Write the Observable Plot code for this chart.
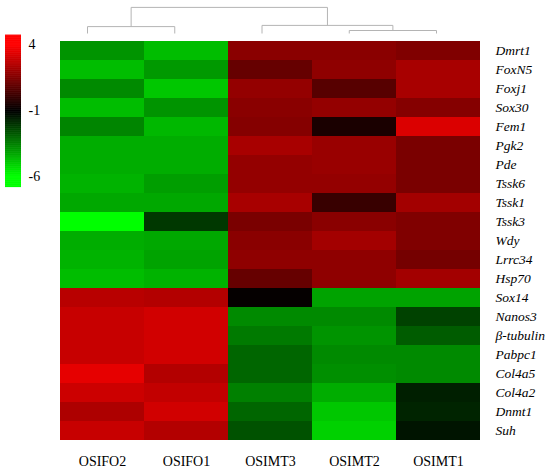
<!DOCTYPE html>
<html>
<head>
<meta charset="utf-8">
<script src="https://cdn.jsdelivr.net/npm/d3@7"></script>
<script src="https://cdn.jsdelivr.net/npm/@observablehq/plot@0.6"></script>
<style>
  body { margin: 0; background: #fff; }
  #chart { position: relative; width: 550px; height: 472px; }
  #chart svg { position: absolute; left: 0; top: 0; font-family: "Liberation Serif", "Times New Roman", serif; }
  #chart svg text { fill: #000; }
</style>
</head>
<body>
<div id="chart"></div>
<script>
const columns = ["OSIFO2", "OSIFO1", "OSIMT3", "OSIMT2", "OSIMT1"];
const genes = ["Dmrt1", "FoxN5", "Foxj1", "Sox30", "Fem1", "Pgk2", "Pde", "Tssk6", "Tssk1", "Tssk3",
  "Wdy", "Lrrc34", "Hsp70", "Sox14", "Nanos3", "β-tubulin", "Pabpc1", "Col4a5", "Col4a2", "Dnmt1", "Suh"];

const OSIFO2 = [-3.9, -4.7, -3.7, -4.7, -3.6, -4.4, -4.4, -4.5, -4.3, -6.0, -4.4, -4.5, -4.7, 2.6, 2.9, 2.9, 2.9, 3.5, 3.0, 2.4, 2.9];
const OSIFO1 = [-4.7, -4.0, -4.9, -3.9, -4.6, -4.4, -4.4, -4.1, -4.3, -2.1, -4.3, -4.2, -4.5, 2.5, 3.1, 3.1, 3.1, 2.5, 2.8, 3.1, 2.5];
const OSIMT3 = [1.7, 1.0, 1.9, 1.7, 1.6, 2.3, 1.9, 1.9, 2.3, 1.4, 1.7, 1.8, 1.0, -0.9, -3.7, -3.4, -3.0, -3.0, -3.5, -3.0, -2.6];
const OSIMT2 = [1.7, 1.8, 0.7, 1.9, -0.5, 2.0, 2.0, 1.9, 0.1, 1.7, 2.2, 1.8, 1.8, -4.2, -3.7, -3.9, -3.7, -3.8, -4.4, -4.9, -5.1];
const OSIMT1 = [1.5, 2.3, 2.3, 1.6, 3.3, 1.4, 1.4, 1.4, 2.2, 1.5, 1.5, 1.3, 2.2, -4.2, -2.3, -2.8, -3.7, -3.7, -1.6, -1.7, -1.4];
const series = [OSIFO2, OSIFO1, OSIMT3, OSIMT2, OSIMT1];

const legendTicks = [4, -1, -6];

// dendrogram: leaves 0..4 (columns order), merges [childA, childB, height]
const merges = [[0, 1, 2.3], [3, 4, 1.0], [2, 6, 2.7], [5, 7, 8.7]];

const table = genes.flatMap((g, i) => columns.map((c, j) => ({gene: g, sample: c, value: series[j][i]})));

const colorOpts = {type: "linear", domain: [-6, -1, 4], range: ["#00ff00", "#000000", "#ff0000"], interpolate: "rgb"};
const serif = "Liberation Serif";

const main = Plot.plot({
  width: 550, height: 472,
  marginLeft: 58, marginRight: 69, marginTop: 34, marginBottom: 26,
  x: {domain: columns, padding: 0, axis: null},
  y: {domain: genes, padding: 0, axis: null},
  color: colorOpts,
  style: {background: "transparent", color: "#000"},
  marks: [
    Plot.cell(table, {x: "sample", y: "gene", fill: "value"}),
    Plot.axisX({anchor: "bottom", tickSize: 0, tickPadding: 10, fontSize: 14, fontFamily: serif, fill: "#000", label: null}),
    Plot.axisY({anchor: "right", tickSize: 0, tickPadding: 14, fontSize: 13.5, fontFamily: serif, fontStyle: "italic", fill: "#000", label: null})
  ]
});

// dendrogram segments
const nodes = [0, 1, 2, 3, 4].map(i => ({x: i, h: 0}));
const segs = [];
for (const [a, b, h] of merges) {
  const A = nodes[a], B = nodes[b];
  segs.push({x1: A.x, y1: A.h, x2: A.x, y2: h});
  segs.push({x1: B.x, y1: B.h, x2: B.x, y2: h});
  segs.push({x1: A.x, y1: h, x2: B.x, y2: h});
  nodes.push({x: (A.x + B.x) / 2, h});
}
const dendro = Plot.plot({
  width: 550, height: 34,
  marginLeft: 87, marginRight: 114, marginTop: 0, marginBottom: 1,
  x: {domain: [0, 4], axis: null},
  y: {domain: [0, 11], axis: null},
  style: {background: "transparent"},
  marks: [
    Plot.link(segs, {x1: "x1", y1: "y1", x2: "x2", y2: "y2", stroke: "#b4b4b4", strokeWidth: 1})
  ]
});

// vertical colour key
const keySteps = d3.range(-6.8, 4.8, 0.05);
const legend = Plot.plot({
  width: 50, height: 190,
  marginLeft: 5, marginRight: 29, marginTop: 34, marginBottom: 4,
  x: {domain: [0, 1], axis: null},
  y: {domain: [-6.8, 4.8], axis: null},
  color: colorOpts,
  style: {background: "transparent", color: "#000"},
  marks: [
    Plot.ruleY(keySteps, {y: d => d, x1: 0, x2: 1, stroke: d => d, strokeWidth: 1.2}),
    Plot.text(legendTicks, {y: d => d, x: 1, dx: 7, textAnchor: "start", text: d => String(d), fontSize: 14, fontFamily: serif, fill: "#000"})
  ]
});

const el = document.getElementById("chart");
el.appendChild(main);
el.appendChild(dendro);
el.appendChild(legend);
</script>
</body>
</html>
